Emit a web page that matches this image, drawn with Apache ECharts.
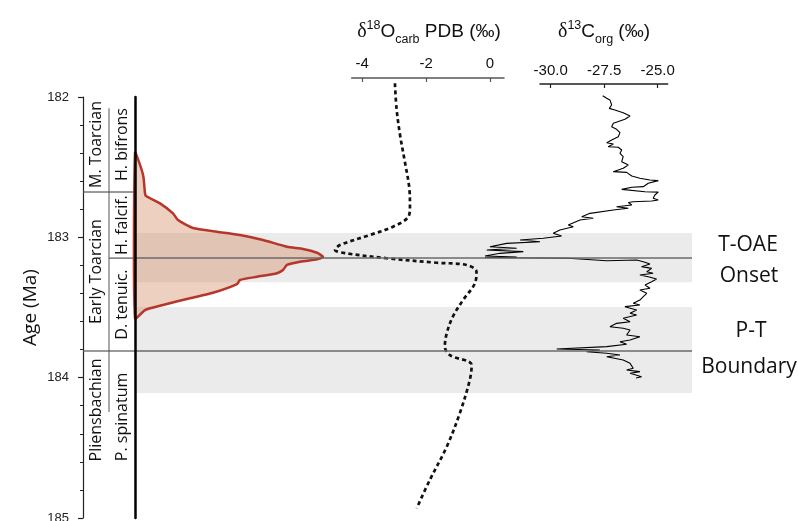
<!DOCTYPE html>
<html><head><meta charset="utf-8">
<script src="https://cdn.jsdelivr.net/npm/echarts@6/dist/echarts.min.js"></script>
<style>html,body{margin:0;padding:0;background:#fff}#c{width:798px;height:521px}</style>
</head><body><div id="c"></div>
<script>
// ---- data ----
const d18oTicks = [-4, -2, 0];
const d13cTicks = [-30.0, -27.5, -25.0];

const d18oAge = [181.902,182.081,182.271,182.461,182.651,182.782,182.853,182.924,182.983,183.055,183.090,183.114,183.149,183.181,183.197,183.245,183.328,183.447,183.566,183.684,183.779,183.839,183.910,184.017,184.252,184.492,184.729,184.931];
const d18oVal = [-2.97,-2.92,-2.81,-2.66,-2.52,-2.50,-2.55,-3.03,-3.75,-4.69,-4.84,-4.48,-3.23,-1.67,-0.73,-0.42,-0.47,-0.84,-1.16,-1.35,-1.41,-1.25,-0.57,-0.63,-0.94,-1.35,-1.88,-2.29];

const d13cAge = [181.991,182.009,182.021,182.057,182.081,182.093,182.112,182.135,182.159,182.187,182.212,182.230,182.254,182.283,182.306,182.326,182.335,182.354,182.358,182.378,182.401,182.425,182.461,182.485,182.508,182.532,182.537,182.563,182.579,182.591,182.596,182.615,182.639,182.643,182.658,182.675,182.678,182.698,182.722,182.734,182.741,182.746,182.752,182.770,182.782,182.793,182.805,182.829,182.853,182.864,182.877,182.912,182.924,182.948,182.971,182.991,183.007,183.019,183.031,183.043,183.067,183.078,183.090,183.102,183.114,183.133,183.140,183.144,183.149,183.167,183.162,183.174,183.190,183.197,183.209,183.221,183.226,183.245,183.256,183.268,183.281,183.297,183.316,183.340,183.363,183.375,183.399,183.423,183.447,183.470,183.482,183.494,183.518,183.541,183.553,183.577,183.601,183.613,183.637,183.648,183.660,183.696,183.708,183.732,183.744,183.762,183.779,183.796,183.803,183.815,183.826,183.839,183.851,183.874,183.898,183.933,183.945,183.957,183.969,183.993,184.002];
const d13cVal = [-27.57,-27.38,-27.23,-27.15,-27.26,-27.00,-26.61,-26.29,-26.53,-27.07,-27.15,-26.92,-26.76,-26.84,-27.15,-27.38,-27.07,-27.31,-26.84,-26.68,-26.76,-26.61,-26.68,-26.37,-26.61,-27.07,-26.45,-26.21,-25.83,-25.36,-24.97,-25.44,-25.67,-26.21,-26.68,-25.59,-24.97,-25.13,-25.21,-24.97,-25.28,-26.14,-26.37,-26.21,-26.92,-26.37,-27.07,-28.16,-28.55,-28.01,-28.63,-29.18,-28.94,-29.57,-29.88,-29.49,-30.35,-31.43,-30.50,-32.06,-32.84,-31.59,-32.99,-31.28,-32.37,-33.07,-31.59,-33.07,-29.18,-27.38,-25.98,-25.67,-25.36,-25.44,-25.75,-25.28,-25.36,-25.51,-25.21,-25.83,-25.44,-25.05,-25.28,-25.59,-25.36,-25.83,-25.51,-25.67,-25.83,-26.14,-25.83,-26.53,-25.98,-26.29,-25.98,-26.61,-26.29,-26.92,-27.23,-26.61,-26.29,-26.45,-25.83,-26.29,-26.76,-26.45,-27.38,-29.72,-27.70,-28.32,-27.38,-26.76,-27.38,-26.61,-26.29,-26.14,-26.45,-25.83,-26.29,-25.75,-26.01];

const densAge = [182.397,182.484,182.568,182.686,182.705,182.758,182.829,182.877,182.934,182.960,182.983,183.019,183.067,183.083,183.110,183.138,183.148,183.157,183.174,183.197,183.233,183.256,183.281,183.304,183.333,183.395,183.434,183.482,183.518,183.577];
const densVal = [0,2.5,4.2,5,5.5,12.5,19,21.5,29,41,52.5,64,76,84,91,94,93,91,82.5,76,74,71,61,52.5,51,39,27.5,14,5,0];

// [column, top age, bottom age]
const stratCells = [[0,182,182.677],[1,182,182.677],[0,182.677,183.81],[1,182.677,183.148],[1,183.148,183.81],[0,183.81,184.65],[1,183.81,184.75]];
const stratNames = ['M. Toarcian','H. bifrons','Early Toarcian','H. falcif.','D. tenuic.','Pliensbachian','P. spinatum'];
const dividerAge = [182.08, 184.245];

const bands = [[182.97,183.32],[183.497,184.11]];
const eventAges = [183.148, 183.81];

// ---- chart ----
const chart = echarts.init(document.getElementById('c'));
const TOP = 97, H = 421;
const hiddenY = i => ({gridIndex:i, type:'value', min:182, max:185, inverse:true, show:false});
const hiddenX = (i,min,max) => ({gridIndex:i, type:'value', min:min, max:max, show:false});
const richTitle = {
  d:{fontSize:20, fontFamily:'Liberation Serif', fill:'#111', lineHeight:28, verticalAlign:'middle'},
  n:{fontSize:19, fontFamily:'Liberation Sans', fill:'#111', lineHeight:28, verticalAlign:'middle'},
  sup:{fontSize:12.5, fontFamily:'Liberation Sans', fill:'#111', lineHeight:28, verticalAlign:'top', padding:[1,0,0,0]},
  sub:{fontSize:12.5, fontFamily:'Liberation Sans', fill:'#111', lineHeight:28, verticalAlign:'bottom'}
};

chart.setOption({
  animation:false,
  grid:[
    {left:83, top:TOP, width:52, height:H, outerBoundsMode:'none'},       // 0 strat
    {left:135, top:TOP, width:200, height:H, outerBoundsMode:'none'},     // 1 density
    {left:351.7, top:TOP, width:152.3, height:H, outerBoundsMode:'none'}, // 2 d18O axis
    {left:540, top:TOP, width:127.7, height:H, outerBoundsMode:'none'},   // 3 d13C axis
    {left:135, top:TOP, width:557, height:H, outerBoundsMode:'none'},     // 4 bands
    {left:314, top:TOP, width:190, height:H, outerBoundsMode:'none'},     // 5 d18O data
    {left:465.1, top:TOP, width:202.6, height:H, outerBoundsMode:'none'}  // 6 d13C data
  ],
  xAxis:[
    hiddenX(0,0,2),
    hiddenX(1,0,100),
    {gridIndex:2, type:'value', position:'top', min:-4.33, max:0.44, offset:19,
     axisLine:{show:true, onZero:false, lineStyle:{color:'#555', width:1.5}},
     axisTick:{show:true, inside:true, length:4, customValues:d18oTicks, lineStyle:{color:'#555', width:1.2}},
     axisLabel:{customValues:d18oTicks, fontSize:15, color:'#111', margin:7, fontFamily:'Liberation Sans'},
     splitLine:{show:false}},
    {gridIndex:3, type:'value', position:'top', min:-30.5, max:-24.53, offset:13,
     axisLine:{show:true, onZero:false, lineStyle:{color:'#222', width:1.5}},
     axisTick:{show:true, inside:true, length:4, customValues:d13cTicks, lineStyle:{color:'#222', width:1.2}},
     axisLabel:{customValues:d13cTicks, fontSize:15, color:'#111', margin:6, fontFamily:'Liberation Sans', formatter:v=>v.toFixed(1)},
     splitLine:{show:false}},
    hiddenX(4,0,1),
    hiddenX(5,-5.5,0.44),
    hiddenX(6,-34,-24.53)
  ],
  yAxis:[
    {gridIndex:0, type:'value', min:182, max:185, interval:1, inverse:true, offset:6, position:'left',
     axisLine:{show:true, lineStyle:{color:'#222', width:1.2}},
     axisTick:{show:true, length:5, lineStyle:{color:'#222', width:1.2}},
     minorTick:{show:true, splitNumber:5, length:3, lineStyle:{color:'#222', width:1}},
     axisLabel:{fontSize:13, color:'#222', margin:8, fontFamily:'Liberation Sans', showMinLabel:true, showMaxLabel:true},
     splitLine:{show:false},
     name:'Age (Ma)', nameLocation:'middle', nameGap:37, nameRotate:90,
     nameTextStyle:{fontSize:19, fontFamily:'Open Sans', color:'#111'}},
    {gridIndex:1, type:'value', min:182, max:185, inverse:true, z:10,
     axisLine:{show:true, lineStyle:{color:'#000', width:2.5}},
     axisTick:{show:false}, axisLabel:{show:false}, splitLine:{show:false}},
    hiddenY(2), hiddenY(3), hiddenY(4), hiddenY(5), hiddenY(6)
  ],
  graphic:[
    {type:'text', x:429, y:32, style:{text:'{d|δ}{sup|18}{n|O}{sub|carb}{n| PDB (‰)}', align:'center', verticalAlign:'middle', rich:richTitle}},
    {type:'text', x:604, y:32, style:{text:'{d|δ}{sup|13}{n|C}{sub|org}{n| (‰)}', align:'center', verticalAlign:'middle', rich:richTitle}},
    {type:'text', x:748, y:245, style:{text:'T-OAE', align:'center', verticalAlign:'middle', font:'21px "Open Sans"', fill:'#111'}},
    {type:'text', x:749, y:276, style:{text:'Onset', align:'center', verticalAlign:'middle', font:'21px "Open Sans"', fill:'#111'}},
    {type:'text', x:751, y:331, style:{text:'P-T', align:'center', verticalAlign:'middle', font:'21px "Open Sans"', fill:'#111'}},
    {type:'text', x:749, y:367, style:{text:'Boundary', align:'center', verticalAlign:'middle', font:'21px "Open Sans"', fill:'#111'}}
  ],
  series:[
    // grey bands
    {type:'custom', xAxisIndex:4, yAxisIndex:4, z:1, silent:true,
     data:bands,
     renderItem:(p,api)=>{
       const a=api.coord([0,api.value(0)]), b=api.coord([1,api.value(1)]);
       return {type:'rect', shape:{x:a[0], y:a[1], width:b[0]-a[0], height:b[1]-a[1]}, style:{fill:'#ebebeb'}};
     }},
    // density
    {type:'custom', xAxisIndex:1, yAxisIndex:1, z:2, silent:true,
     data:[[0,182]],
     renderItem:(p,api)=>{
       const pts = densAge.map((a,i)=>api.coord([densVal[i],a]));
       return {type:'polygon', shape:{points:pts, smooth:0.2},
               style:{fill:'rgba(214,142,104,0.42)', stroke:'#b5372b', lineWidth:2.5}};
     }},
    // stratigraphic column
    {type:'custom', xAxisIndex:0, yAxisIndex:0, z:3, silent:true,
     data:stratCells,
     renderItem:(p,api)=>{
       const col=api.value(0), a0=api.value(1), a1=api.value(2);
       const p0=api.coord([col,a0]), p1=api.coord([col+1,a1]);
       const ch=[];
       if (a0>182) ch.push({type:'line', shape:{x1:p0[0],y1:p0[1],x2:p1[0],y2:p0[1]}, style:{stroke:'#555',lineWidth:1.2}});
       ch.push({type:'text', x:(p0[0]+p1[0])/2, y:(p0[1]+p1[1])/2, rotation:Math.PI/2,
                style:{text:stratNames[p.dataIndex], align:'center', verticalAlign:'middle', font:'16px "Open Sans"', fill:'#111'}});
       return {type:'group', children:ch};
     }},
    {type:'line', xAxisIndex:0, yAxisIndex:0, z:3, silent:true, symbol:'none',
     data:dividerAge.map(a=>[1,a]), lineStyle:{color:'#555', width:1}},
    // d18O
    {type:'line', xAxisIndex:5, yAxisIndex:5, z:4, silent:true, symbol:'none', clip:false, smooth:0.35,
     data:d18oVal.map((v,i)=>[v,d18oAge[i]]),
     lineStyle:{color:'#111', width:2.7, type:[4,3.2], cap:'butt'}},
    // d13C
    {type:'line', xAxisIndex:6, yAxisIndex:6, z:4, silent:true, symbol:'none', clip:false,
     data:d13cVal.map((v,i)=>[v,d13cAge[i]]),
     lineStyle:{color:'#000', width:1.1}},
    // event lines
    {type:'custom', xAxisIndex:4, yAxisIndex:4, z:5, silent:true,
     data:eventAges.map(a=>[0,a]),
     renderItem:(p,api)=>{
       const a=api.coord([0,api.value(1)]), b=api.coord([1,api.value(1)]);
       return {type:'line', shape:{x1:a[0],y1:a[1],x2:b[0],y2:b[1]}, style:{stroke:'#6a6a6a', lineWidth:1.5}};
     }}
  ]
});
</script></body></html>
